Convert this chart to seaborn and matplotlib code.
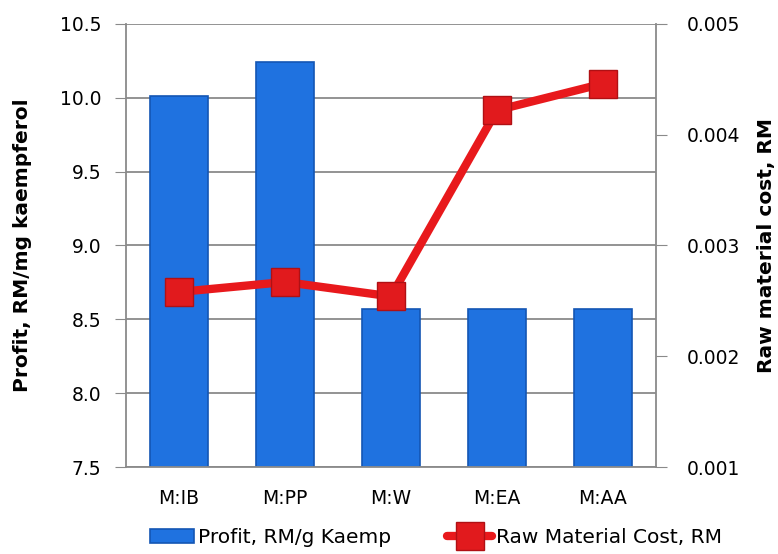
import numpy as np
import pandas as pd
import matplotlib
matplotlib.use("Agg")
import matplotlib.pyplot as plt
import seaborn as sns
from matplotlib.ticker import FixedLocator

# Data
categories = ["M:IB", "M:PP", "M:W", "M:EA", "M:AA"]
profit = [10.01, 10.24, 8.57, 8.57, 8.57]
raw_cost = [0.00258, 0.00267, 0.00254, 0.00422, 0.00446]

df = pd.DataFrame({"Method": categories, "Profit": profit, "Cost": raw_cost})

sns.set_style("white")
plt.rcParams.update({"font.family": ["DejaVu Sans"], "font.size": 13.5,
                     "text.color": "black", "axes.labelcolor": "black",
                     "xtick.color": "black", "ytick.color": "black"})

fig, ax = plt.subplots(figsize=(7.78, 5.54), dpi=100)
fig.subplots_adjust(left=0.162, right=0.843, top=0.957, bottom=0.157)

# Bars on the left axis
sns.barplot(data=df, x="Method", y="Profit", ax=ax, color="#1f72e0",
            edgecolor="#1456b4", linewidth=1.2, width=0.55, saturation=1,
            label="Profit, RM/g Kaemp", zorder=2)
ax.get_legend().remove()
ax.set_ylim(7.5, 10.5)
ax.set_yticks(np.arange(7.5, 10.51, 0.5))
ax.set_yticklabels([f"{v:.1f}" for v in np.arange(7.5, 10.51, 0.5)])
ax.set_xlim(-0.5, 4.5)
ax.grid(axis="y", color="#8a8a8a", linewidth=1.3, zorder=0)
ax.set_axisbelow(True)
ax.set_xlabel("")
ax.set_ylabel("Profit, RM/mg kaempferol", fontweight="bold", fontsize=14.5, labelpad=20)
ax.xaxis.set_major_locator(FixedLocator(np.arange(-0.5, 4.6, 1)))
ax.xaxis.set_minor_locator(FixedLocator(range(len(categories))))
ax.set_xticklabels([])
ax.set_xticklabels(categories, minor=True)
ax.tick_params(axis="x", which="major", length=7, color="#8a8a8a", direction="out")
ax.tick_params(axis="x", which="minor", length=0, pad=16)
ax.tick_params(axis="y", length=8, color="#8a8a8a", direction="out", pad=10)
for s in ["left", "bottom"]:
    ax.spines[s].set_color("#8a8a8a")
    ax.spines[s].set_linewidth(1.3)
ax.spines["top"].set_visible(False)
ax.spines["right"].set_visible(False)

# Line on the right axis
ax2 = ax.twinx()
sns.lineplot(data=df, x="Method", y="Cost", ax=ax2, color="#e8191c", linewidth=6,
             marker="s", markersize=20, markerfacecolor="#e11a1d",
             markeredgecolor="#b01014", markeredgewidth=1,
             label="Raw Material Cost, RM", zorder=3)
ax2.set_ylim(0.001, 0.005)
ax2.set_yticks(np.arange(0.001, 0.00501, 0.001))
ax2.set_yticklabels([f"{v:.3f}" for v in np.arange(0.001, 0.00501, 0.001)])
ax2.set_ylabel("Raw material cost, RM", fontweight="bold", fontsize=14.5, labelpad=12)
ax2.tick_params(axis="y", length=8, color="#8a8a8a", direction="out", pad=14)
ax2.spines["right"].set_color("#8a8a8a")
ax2.spines["right"].set_linewidth(1.3)
for s in ["top", "left", "bottom"]:
    ax2.spines[s].set_visible(False)
ax2.set_xlabel("")
ax2.get_legend().remove()

# Combined legend below the plot
h1, l1 = ax.get_legend_handles_labels()
h2, l2 = ax2.get_legend_handles_labels()
fig.legend(h1 + h2, l1 + l2, loc="lower center", ncol=2, frameon=False,
           bbox_to_anchor=(0.56, -0.02), handlelength=2.2, handletextpad=0.2,
           columnspacing=2.8, fontsize=14.5)

fig.savefig("out.png", dpi=100)
